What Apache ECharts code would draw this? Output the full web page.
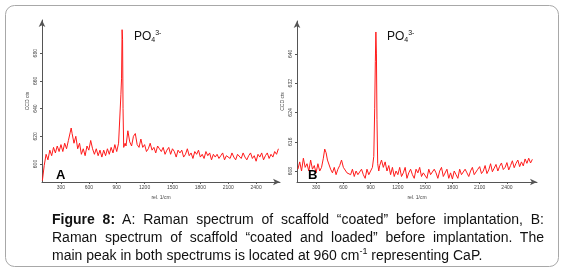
<!DOCTYPE html>
<html>
<head>
<meta charset="utf-8">
<script src="https://cdn.jsdelivr.net/npm/echarts@6/dist/echarts.min.js"></script>
<style>
body { margin: 0; background: #fff; }
#wrap { position: relative; width: 565px; height: 273px; }
#main { position: absolute; left: 0; top: 0; width: 565px; height: 273px; }
#caption { position: absolute; left: 52px; top: 210px; width: 492px; font-family: "Liberation Sans", Arial, sans-serif; font-size: 14px; line-height: 18px; color: #111; }
#caption div { text-align: justify; text-align-last: justify; white-space: nowrap; }
#caption div.last { text-align-last: left; }
</style>
</head>
<body>
<div id="wrap">
<div id="main"></div>
<div id="caption">
<div><b>Figure 8:</b> A: Raman spectrum of scaffold “coated” before implantation, B:</div>
<div>Raman spectrum of scaffold “coated and loaded” before implantation. The</div>
<div class="last">main peak in both spectrums is located at 960 cm<sup style="font-size:9px;line-height:0">-1</sup> representing CaP.</div>
</div>
</div>
<script>
var myChart = echarts.init(document.getElementById('main'));

// panel A: scaffold "coated"
var waveA = [100, 120, 140, 160, 180, 200, 220, 240, 260, 280, 300, 320, 340, 360, 380, 400, 410, 420, 440, 460,
    480, 500, 520, 540, 560, 580, 600, 620, 640, 660, 680, 700, 720, 740, 760, 780, 800, 820, 840, 860,
    880, 900, 920, 935, 945, 952, 958, 963, 968, 975, 990, 1000, 1020, 1040, 1060, 1080, 1100, 1120, 1140, 1160,
    1180, 1200, 1220, 1240, 1260, 1280, 1300, 1320, 1340, 1360, 1380, 1400, 1420, 1440, 1460, 1480, 1500, 1520, 1540, 1560,
    1580, 1600, 1620, 1640, 1660, 1680, 1700, 1720, 1740, 1760, 1780, 1800, 1820, 1840, 1860, 1880, 1900, 1920, 1940, 1960,
    1980, 2000, 2020, 2040, 2060, 2080, 2100, 2120, 2140, 2160, 2180, 2200, 2220, 2240, 2260, 2280, 2300, 2320, 2340, 2360,
    2380, 2400, 2420, 2440, 2460, 2480, 2500, 2520, 2540, 2560, 2580, 2600, 2620, 2640];
var ctsA = [588, 599, 607, 603, 610, 606, 612, 608, 613, 609, 614, 609, 615, 611, 617, 623, 626, 622, 615, 620,
    611, 615, 607, 611, 606, 613, 610, 617, 611, 607, 611, 606, 610, 605, 610, 606, 611, 607, 612, 608,
    614, 609, 615, 616, 650, 662, 697, 690, 640, 612, 615, 613, 624, 616, 613, 620, 622, 614, 612, 618,
    612, 614, 609, 611, 615, 610, 612, 608, 613, 611, 609, 612, 607, 610, 612, 607, 611, 609, 605, 610,
    608, 610, 605, 607, 611, 606, 608, 604, 609, 607, 610, 605, 607, 604, 609, 606, 608, 603, 607, 605,
    607, 604, 606, 608, 603, 606, 607, 604, 608, 605, 603, 607, 606, 604, 608, 605, 603, 606, 608, 604,
    606, 602, 607, 605, 608, 603, 606, 608, 604, 607, 605, 609, 607, 611];

// panel B: scaffold "coated and loaded"
var waveB = [100, 120, 140, 160, 180, 200, 220, 240, 260, 280, 300, 320, 340, 360, 380, 395, 410, 425, 440, 460,
    480, 500, 520, 540, 560, 580, 600, 620, 640, 660, 680, 700, 720, 740, 760, 780, 800, 820, 840, 860,
    880, 900, 920, 935, 945, 952, 958, 964, 970, 978, 990, 1000, 1020, 1040, 1060, 1080, 1100, 1120, 1140, 1160,
    1180, 1200, 1220, 1240, 1260, 1280, 1300, 1320, 1340, 1360, 1380, 1400, 1420, 1440, 1460, 1480, 1500, 1520, 1540, 1560,
    1580, 1600, 1620, 1640, 1660, 1680, 1700, 1720, 1740, 1760, 1780, 1800, 1820, 1840, 1860, 1880, 1900, 1920, 1940, 1960,
    1980, 2000, 2020, 2040, 2060, 2080, 2100, 2120, 2140, 2160, 2180, 2200, 2220, 2240, 2260, 2280, 2300, 2320, 2340, 2360,
    2380, 2400, 2420, 2440, 2460, 2480, 2500, 2520, 2540, 2560, 2580, 2600, 2620, 2640, 2660, 2680];
var ctsB = [608.5, 610.5, 608, 611.5, 609, 610, 608, 611, 608.5, 609.5, 607.5, 610, 608, 609, 611.5, 614, 613, 611, 610.5, 608.5,
    607.5, 609, 607, 608.5, 609.5, 611, 609, 609.5, 607.5, 608, 607, 608.5, 606.5, 608, 607, 606.5, 608.5, 607, 606, 608.5,
    607, 608, 609, 612, 625, 638, 646, 640, 622, 610, 608, 609.5, 611, 609, 610.5, 608, 609.5, 607, 609, 606.5,
    608, 607, 609, 606.5, 607.5, 609, 606, 607.5, 608.5, 607, 606, 608.5, 607.5, 609, 606.5, 607.5, 608, 606, 608.5, 607,
    606.5, 608.5, 607.5, 606, 608, 609, 606.5, 607, 608.5, 606, 607.5, 605.8, 608, 607, 606, 608.5, 607, 606.5, 608.5, 607.5,
    606.5, 608, 609, 607, 606.8, 608.5, 609.2, 607.3, 608, 609.5, 607.3, 608.3, 610, 607.8, 608.8, 609.8, 608, 609.3, 610.2, 608.4,
    609, 610.3, 608.3, 609.5, 610.8, 608.9, 610.1, 611, 609.2, 610.5, 609.4, 611.3, 610.1, 611.5, 610.2, 611.2];

var ticksX = [300, 600, 900, 1200, 1500, 1800, 2100, 2400];
var ticksYA = [600, 620, 640, 660, 680];
var ticksYB = [608, 616, 624, 632, 640];

function pairs(xs, ys) {
    return xs.map(function (x, i) { return [x, ys[i]]; });
}

var axisCol = '#555';
var tinyFont = { fontSize: 5, color: '#444', fontFamily: 'Liberation Sans' };

function xAxisFor(idx, min, max) {
    return {
        gridIndex: idx,
        type: 'value',
        min: min,
        max: max,
        name: 'rel. 1/cm',
        nameLocation: 'middle',
        nameGap: 10,
        nameTextStyle: tinyFont,
        axisLine: { show: true, lineStyle: { color: axisCol, width: 1 }, symbol: ['none', 'arrow'], symbolSize: [5, 7] },
        axisTick: { show: true, length: 2, customValues: ticksX, lineStyle: { color: axisCol } },
        axisLabel: {
            customValues: ticksX, fontSize: 5, color: '#444', margin: 3,
            formatter: function (v) { return String(v); }
        },
        splitLine: { show: false }
    };
}

function yAxisFor(idx, min, max, ticks) {
    return {
        gridIndex: idx,
        type: 'value',
        min: min,
        max: max,
        name: 'CCD cts',
        nameLocation: 'middle',
        nameRotate: 90,
        nameGap: 12,
        nameTextStyle: tinyFont,
        axisLine: { show: true, lineStyle: { color: axisCol, width: 1 }, symbol: ['none', 'arrow'], symbolSize: [5, 7] },
        axisTick: { show: true, length: 2, customValues: ticks, lineStyle: { color: axisCol } },
        axisLabel: {
            customValues: ticks, rotate: 90, fontSize: 5, color: '#444', margin: 4,
            formatter: function (v) { return String(v); }
        },
        splitLine: { show: false }
    };
}

var peakRich = {
    m: { fontSize: 12, fontWeight: 'normal', color: '#111', fontFamily: 'Liberation Sans' },
    sub: { fontSize: 7, fontWeight: 'normal', color: '#111', padding: [7, 0, 0, 0] },
    sup: { fontSize: 7, fontWeight: 'normal', color: '#111', padding: [0, 0, 7, 0] }
};

option = {
    animation: false,
    title: [{
        text: '{m|PO}{sub|4}{sup|3-}', left: 129, top: 25,
        textStyle: { fontWeight: 'normal', rich: peakRich }
    }, {
        text: '{m|PO}{sub|4}{sup|3-}', left: 382, top: 25,
        textStyle: { fontWeight: 'normal', rich: peakRich }
    }, {
        text: 'A', left: 51, top: 164,
        textStyle: { fontSize: 13, fontWeight: 'bold', color: '#000', fontFamily: 'Liberation Sans' }
    }, {
        text: 'B', left: 303, top: 164,
        textStyle: { fontSize: 13, fontWeight: 'bold', color: '#000', fontFamily: 'Liberation Sans' }
    }],
    graphic: [{
        type: 'rect',
        shape: { x: 5.5, y: 5.5, width: 553, height: 261, r: 9 },
        style: { fill: 'none', stroke: '#a8a8a8', lineWidth: 1 },
        silent: true
    }],
    grid: [
        { left: 42, top: 20, width: 238, height: 162 },
        { left: 297, top: 21, width: 240, height: 161 }
    ],
    xAxis: [xAxisFor(0, 96, 2657), xAxisFor(1, 90, 2731)],
    yAxis: [yAxisFor(0, 587, 704, ticksYA), yAxisFor(1, 605, 649, ticksYB)],
    series: [{
        type: 'line',
        xAxisIndex: 0,
        yAxisIndex: 0,
        showSymbol: false,
        lineStyle: { color: '#ff1a1a', width: 1 },
        data: pairs(waveA, ctsA)
    }, {
        type: 'line',
        xAxisIndex: 1,
        yAxisIndex: 1,
        showSymbol: false,
        lineStyle: { color: '#ff1a1a', width: 1 },
        data: pairs(waveB, ctsB)
    }]
};
myChart.setOption(option);
</script>
</body>
</html>
